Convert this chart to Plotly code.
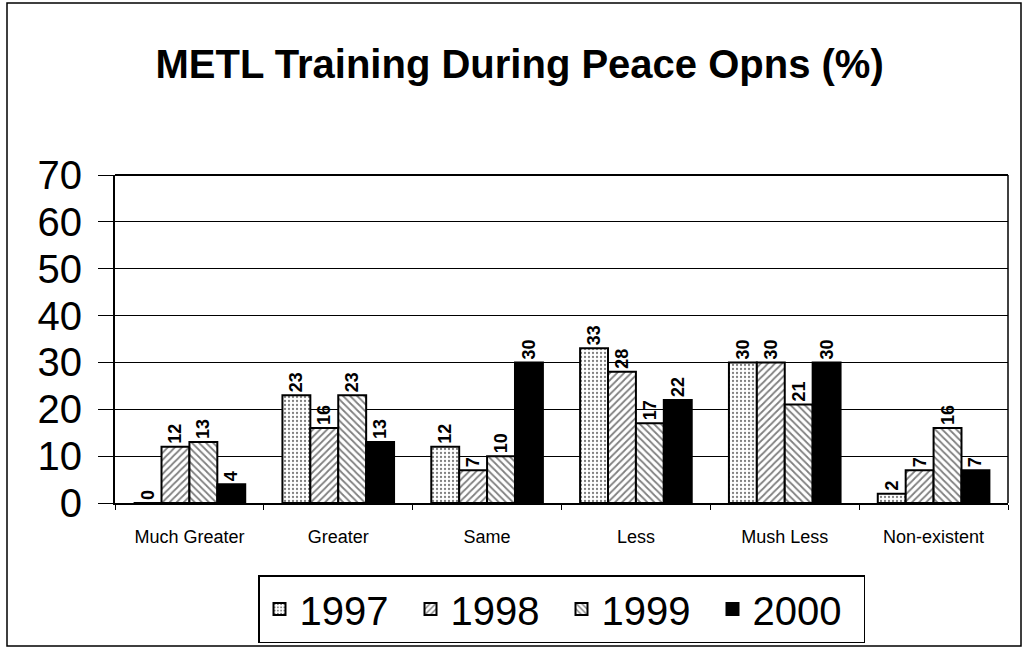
import plotly.graph_objects as go

categories = ["Much Greater", "Greater", "Same", "Less", "Mush Less", "Non-existent"]
years = ["1997", "1998", "1999", "2000"]
v1997 = [0, 23, 12, 33, 30, 2]
v1998 = [12, 16, 7, 28, 30, 7]
v1999 = [13, 23, 10, 17, 21, 16]
v2000 = [4, 13, 30, 22, 30, 7]
series = [v1997, v1998, v1999, v2000]

patterns = [
    dict(shape=".", fgcolor="black", bgcolor="white", size=4, solidity=0.25),
    dict(shape="/", fgcolor="black", bgcolor="white", size=5, solidity=0.35),
    dict(shape="\\", fgcolor="black", bgcolor="white", size=5, solidity=0.35),
    dict(shape="", fgcolor="black", bgcolor="black"),
]
colors = ["white", "white", "white", "black"]

FONT = "Liberation Sans, Arial, sans-serif"
L, R, T, B = 115, 21, 175, 147
PW, PH = 1029 - L - R, 650 - T - B

fig = go.Figure()
for name, vals, pat, col in zip(years, series, patterns, colors):
    fig.add_trace(go.Bar(
        name=name, x=categories, y=vals,
        marker=dict(color=col, pattern=pat, line=dict(color="black", width=2)),
        text=[str(v) for v in vals], textposition="outside", textangle=-90,
        textfont=dict(family=FONT, size=18, color="black", weight="bold"),
        cliponaxis=False,
    ))

fig.update_layout(
    width=1029, height=650,
    margin=dict(l=L, r=R, t=T, b=B, autoexpand=False),
    paper_bgcolor="white", plot_bgcolor="white",
    barmode="group", bargap=0.25, bargroupgap=0,
    title=dict(text="<b>METL Training During Peace Opns (%)</b>", x=0.505, xanchor="center",
               y=1 - 64 / 650, yanchor="middle",
               font=dict(family=FONT, size=40, color="black")),
    font=dict(family=FONT, color="black"),
    xaxis=dict(showline=True, linecolor="black", linewidth=2, mirror=False,
               ticks="outside", tickson="boundaries", ticklen=5, tickcolor="black",
               ticklabelstandoff=16,
               tickfont=dict(size=18, family=FONT, color="black"), showgrid=False),
    yaxis=dict(range=[0, 70], dtick=10, showline=True, linecolor="black", linewidth=2,
               ticks="outside", ticklen=15, tickcolor="black", ticklabelstandoff=8,
               showgrid=True, gridcolor="black", gridwidth=1.2,
               tickfont=dict(size=40, family=FONT, color="black")),
    legend=dict(orientation="h", x=0.5, xanchor="center", y=-72 / PH, yanchor="top",
                bordercolor="black", borderwidth=1.5, bgcolor="white",
                font=dict(size=40, family=FONT, color="black"),
                entrywidth=106, entrywidthmode="pixels",
                itemsizing="constant", tracegroupgap=0),
)
fig.add_shape(type="rect", xref="paper", yref="paper",
              x0=(7 - L) / PW, x1=(1021 - L) / PW,
              y0=(650 - B - 646) / PH, y1=(650 - B - 3) / PH,
              line=dict(color="black", width=1.5), fillcolor="rgba(0,0,0,0)", layer="below")
fig.add_shape(type="line", xref="paper", yref="paper", x0=1, x1=1, y0=0, y1=1,
              line=dict(color="black", width=1.5))
fig.add_shape(type="line", xref="paper", yref="paper", x0=0, x1=1, y0=1, y1=1,
              line=dict(color="black", width=2))
fig.write_html("out.html", post_script="document.body.style.margin='0px';",
               config={"displayModeBar": False})
